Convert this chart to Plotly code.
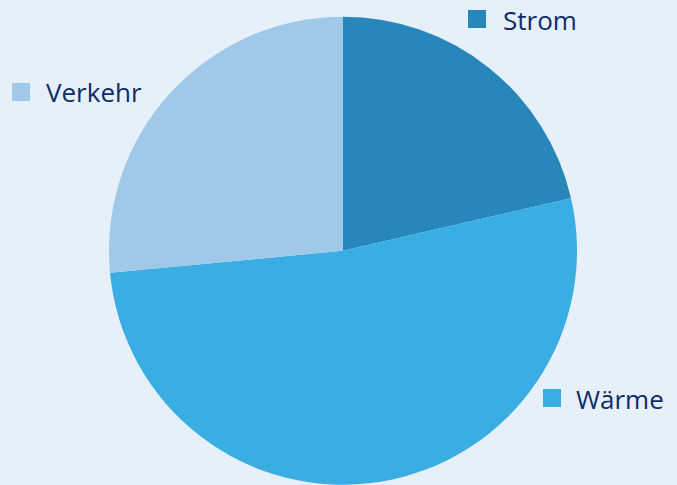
import plotly.graph_objects as go

labels = ["Strom", "Wärme", "Verkehr"]
values = [21.4, 52.1, 26.5]
colors = ["#2787bb", "#3aaee2", "#a0c8e8"]

W, H = 677, 485

fig = go.Figure(go.Pie(
    labels=labels, values=values, sort=False, direction="clockwise", rotation=0,
    marker=dict(colors=colors, line=dict(width=0)),
    textinfo="none", hoverinfo="label+percent",
    domain=dict(x=[109/W, 577/W], y=[0, 0.966]),
    showlegend=False,
))

# legend-like labels: (square left px, square top px, text left px, center y px)
pos = {"Strom": (468, 10, 501, 20), "Wärme": (543, 389, 574, 399), "Verkehr": (12, 83, 44, 92)}
shapes, annots = [], []
for lab, col in zip(labels, colors):
    sx, sy, tx, ty = pos[lab]
    shapes.append(dict(type="rect", xref="paper", yref="paper",
                       x0=sx/W, x1=(sx+18)/W, y0=1-(sy+18)/H, y1=1-sy/H,
                       fillcolor=col, line=dict(width=0)))
    annots.append(dict(text=lab, xref="paper", yref="paper", x=tx/W, y=1-ty/H,
                       xanchor="left", yanchor="middle", showarrow=False,
                       font=dict(family="Open Sans", size=26, color="#0f2c68")))

fig.update_layout(width=W, height=H, margin=dict(l=0, r=0, t=0, b=0),
                  paper_bgcolor="#e5f0fb", plot_bgcolor="#e5f0fb",
                  shapes=shapes, annotations=annots)
fig.write_html("out.html", config={"displayModeBar": False},
               post_script="document.body.style.margin='0';document.body.style.background='#e5f0fb';")
